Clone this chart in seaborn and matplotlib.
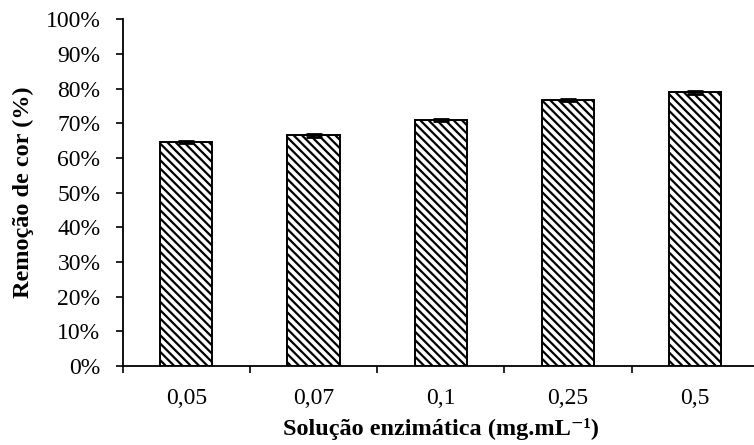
import matplotlib
matplotlib.use("Agg")
import matplotlib.pyplot as plt
import seaborn as sns
import pandas as pd
from matplotlib.ticker import FixedLocator, NullFormatter, FixedFormatter

# Enzyme solution concentrations (mg/mL) and colour removal (fraction)
concentrations = ["0,05", "0,07", "0,1", "0,25", "0,5"]
removal = [0.646, 0.665, 0.710, 0.767, 0.789]
removal_sd = [0.003, 0.004, 0.003, 0.004, 0.004]
y_ticks = [i / 10 for i in range(11)]
y_tick_labels = [f"{i * 10}%" for i in range(11)]

sns.set_theme(style="white")
plt.rcParams["font.family"] = ["Liberation Serif", "DejaVu Serif"]
plt.rcParams["hatch.linewidth"] = 1.6

df = pd.DataFrame({"conc": concentrations, "removal": removal})

fig = plt.figure(figsize=(7.54, 4.45), dpi=100)
ax = fig.add_axes([122.7 / 754, 79 / 445, 636 / 754, 346.7 / 445])

sns.barplot(data=df, x="conc", y="removal", order=concentrations,
            color="white", edgecolor="black", linewidth=1.4, width=0.41,
            errorbar=None, ax=ax)
for patch in ax.patches:
    patch.set_hatch("\\\\\\\\")
    patch.set_facecolor("white")
    patch.set_edgecolor("black")

ax.errorbar(range(len(concentrations)), removal, yerr=removal_sd, fmt="none",
            ecolor="black", elinewidth=1.2, capsize=6, capthick=2, zorder=3)

ax.set_xlim(-0.5, len(concentrations) - 0.5)
ax.set_ylim(0, 1)
ax.set_yticks(y_ticks)
ax.set_yticklabels(y_tick_labels)

# Category boundaries carry the tick marks; labels sit under each bar
ax.xaxis.set_major_locator(FixedLocator([i - 0.5 for i in range(len(concentrations) + 1)]))
ax.xaxis.set_major_formatter(NullFormatter())
ax.xaxis.set_minor_locator(FixedLocator(list(range(len(concentrations)))))
ax.xaxis.set_minor_formatter(FixedFormatter(concentrations))
ax.tick_params(axis="x", which="major", direction="out", length=5, width=1.2,
               color="black", bottom=True)
ax.tick_params(axis="x", which="minor", length=0, pad=16, labelsize=17,
               labelcolor="black", bottom=True)
ax.tick_params(axis="y", direction="out", length=5, width=1.2, color="black",
               left=True, pad=11, labelsize=17, labelcolor="black")

for side in ["top", "right"]:
    ax.spines[side].set_visible(False)
for side in ["left", "bottom"]:
    ax.spines[side].set_color("black")
    ax.spines[side].set_linewidth(1.3)

ax.set_ylabel("Remoção de cor (%)", fontsize=17.5, fontweight="bold",
              color="black", labelpad=8)
ax.set_xlabel("Solução enzimática (mg.mL⁻¹)", fontsize=17.5,
              fontweight="bold", color="black", labelpad=6)

fig.savefig("out.png", dpi=100)
